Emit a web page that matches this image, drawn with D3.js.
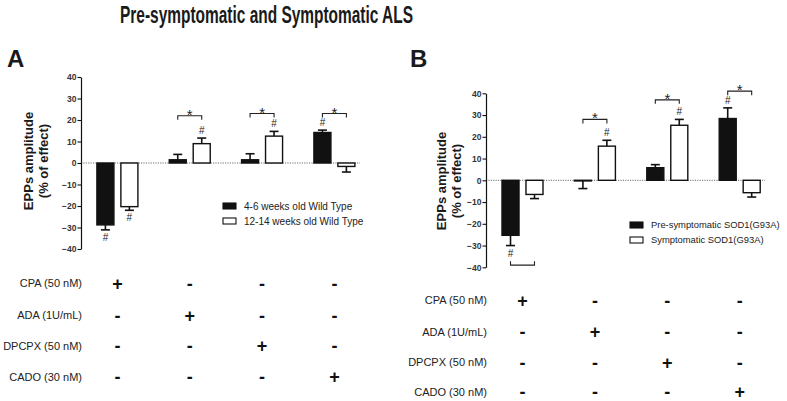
<!DOCTYPE html>
<html>
<head>
<meta charset="utf-8">
<script src="https://cdn.jsdelivr.net/npm/d3@7"></script>
<style>
  body { margin: 0; background: #fff; }
  svg { font-family: "Liberation Sans", Arial, sans-serif; }
</style>
</head>
<body>
<div id="chart-container"></div>
<script>
// Treatments (table rows and bar groups).
const treatments = ["CPA (50 nM)", "ADA (1U/mL)", "DPCPX (50 nM)", "CADO (30 nM)"];
const yTicks = [40, 30, 20, 10, 0, -10, -20, -30, -40];

// Panel A: wild type.
const seriesA = ["4-6 weeks old Wild Type", "12-14 weeks old Wild Type"];
const youngWT = [-28.8, 1.5, 1.5, 14.2];
const youngWTErr = [2.3, 2.5, 2.8, 1.1];
const oldWT = [-20.3, 9, 12.5, -1.6];
const oldWTErr = [1.7, 2.6, 2.2, 2.6];
// [group, series] with a # mark.
const hashA = [[0, 0], [0, 1], [1, 1], [2, 1], [3, 0]];
// [group, level] for * brackets.
const starA = [[1, 22], [2, 23], [3, 23]];

// Panel B: SOD1(G93A).
const seriesB = ["Pre-symptomatic SOD1(G93A)", "Symptomatic SOD1(G93A)"];
const preSymp = [-25.3, -0.3, 5.8, 28.4];
const preSympErr = [4.7, 3.5, 1.4, 4.9];
const symp = [-6.5, 15.7, 25.3, -5.7];
const sympErr = [1.9, 2.7, 2.7, 2.0];
const hashB = [[0, 0], [1, 1], [2, 1], [3, 0]];
const starB = [[1, 28], [2, 37], [3, 41]];
const lowBracketB = [[0, -39]];

const width = 787;
const height = 401;

const svg = d3.select("#chart-container").append("svg")
    .attr("width", width)
    .attr("height", height);

// condensed bold title
svg.append("text")
    .attr("x", 120)
    .attr("y", 23)
    .attr("textLength", 293)
    .attr("lengthAdjust", "spacingAndGlyphs")
    .style("font-weight", "bold")
    .style("font-size", "23px")
    .attr("fill", "#1a1a1a")
    .text("Pre-symptomatic and Symptomatic ALS");

function drawPanel(p) {
    const g = svg.append("g");

    const y = d3.scaleLinear().domain([-40, 40]).range([p.yBottom, p.yTop]);
    const x = d3.scalePoint().domain(d3.range(4)).range([p.firstCenter, p.lastCenter]);
    const sub = d3.scaleBand().domain([0, 1]).range([-20.5, 20.5]).paddingInner(0.29);

    // panel letter
    g.append("text")
        .attr("x", p.letterX)
        .attr("y", 67)
        .style("font-weight", "bold")
        .style("font-size", "24px")
        .attr("fill", "#1a1a1a")
        .text(p.letter);

    // y label
    const yl = g.append("text")
        .attr("transform", `translate(${p.labelX}, ${p.labelY}) rotate(-90)`)
        .attr("text-anchor", "middle")
        .style("font-weight", "bold")
        .style("font-size", "13px")
        .attr("fill", "#1a1a1a");
    yl.append("tspan").attr("x", 0).attr("dy", 0).text("EPPs amplitude");
    yl.append("tspan").attr("x", 0).attr("dy", 14.5).text("(% of effect)");

    // zero line
    g.append("line")
        .attr("x1", p.axisX)
        .attr("x2", p.zeroEnd)
        .attr("y1", y(0))
        .attr("y2", y(0))
        .attr("stroke", "#444")
        .attr("stroke-width", 0.8)
        .attr("stroke-dasharray", "1.2,1.2");

    const bars = [];
    p.values.forEach((vals, s) => {
        vals.forEach((v, i) => {
            bars.push({ i: i, s: s, v: v, e: p.errors[s][i] });
        });
    });

    const cx = d => x(d.i) + sub(d.s) + sub.bandwidth() / 2;

    // error bars (outward from bar end)
    bars.forEach(d => {
        const end = d.v >= 0 ? d.v + d.e : d.v - d.e;
        g.append("line")
            .attr("x1", cx(d)).attr("x2", cx(d))
            .attr("y1", y(d.v)).attr("y2", y(end))
            .attr("stroke", "#111").attr("stroke-width", 1.6);
        g.append("line")
            .attr("x1", cx(d) - 4.5).attr("x2", cx(d) + 4.5)
            .attr("y1", y(end)).attr("y2", y(end))
            .attr("stroke", "#111").attr("stroke-width", 1.6);
    });

    g.selectAll(".bar")
        .data(bars)
        .enter()
        .append("rect")
        .attr("class", "bar")
        .attr("x", d => x(d.i) + sub(d.s))
        .attr("width", sub.bandwidth())
        .attr("y", d => y(Math.max(0, d.v)))
        .attr("height", d => Math.abs(y(d.v) - y(0)))
        .attr("fill", d => d.s === 0 ? "#111" : "#fff")
        .attr("stroke", "#111")
        .attr("stroke-width", 1.4);

    // # marks
    p.hashes.forEach(([i, s]) => {
        const d = bars.find(b => b.i === i && b.s === s);
        const end = d.v >= 0 ? d.v + d.e : d.v - d.e;
        g.append("text")
            .attr("x", cx(d))
            .attr("y", d.v >= 0 ? y(end) - 4 : y(end) + 11)
            .attr("text-anchor", "middle")
            .style("font-size", "10px")
            .attr("fill", "#222")
            .text("#");
    });

    // * brackets
    p.stars.forEach(([i, level]) => {
        const x1 = x(i) + sub(0) + sub.bandwidth() / 2;
        const x2 = x(i) + sub(1) + sub.bandwidth() / 2;
        const yy = y(level);
        g.append("path")
            .attr("d", `M${x1},${yy + 4}V${yy}H${x2}V${yy + 4}`)
            .attr("fill", "none")
            .attr("stroke", "#222")
            .attr("stroke-width", 1.1);
        g.append("text")
            .attr("x", (x1 + x2) / 2)
            .attr("y", yy + 4)
            .attr("text-anchor", "middle")
            .style("font-size", "15px")
            .attr("fill", "#222")
            .text("*");
    });

    p.lowBrackets.forEach(([i, level]) => {
        const x1 = x(i) + sub(0) + sub.bandwidth() / 2;
        const x2 = x(i) + sub(1) + sub.bandwidth() / 2;
        const yy = y(level);
        g.append("path")
            .attr("d", `M${x1},${yy - 4}V${yy}H${x2}V${yy - 4}`)
            .attr("fill", "none")
            .attr("stroke", "#222")
            .attr("stroke-width", 1.1);
    });

    // y axis
    const axis = g.append("g")
        .attr("transform", `translate(${p.axisX}, 0)`)
        .call(d3.axisLeft(y).tickValues(yTicks).tickSize(3.5).tickSizeOuter(0).tickPadding(1));
    axis.select(".domain").attr("stroke", "#111").attr("stroke-width", 1.2);
    axis.selectAll(".tick line").attr("stroke", "#111").attr("stroke-width", 1.1);
    axis.selectAll(".tick text")
        .style("font-size", "8.5px")
        .style("font-family", "'Liberation Sans', Arial, sans-serif")
        .style("font-weight", "bold")
        .attr("fill", "#333");

    // legend
    const lg = g.append("g").attr("transform", `translate(${p.legendX}, ${p.legendY})`);
    p.series.forEach((name, s) => {
        lg.append("rect")
            .attr("x", 0)
            .attr("y", s * 15 - 3)
            .attr("width", 13)
            .attr("height", 6)
            .attr("fill", s === 0 ? "#111" : "#fff")
            .attr("stroke", "#111")
            .attr("stroke-width", 1.1);
        lg.append("text")
            .attr("x", 21)
            .attr("y", s * 15)
            .attr("dy", "0.35em")
            .style("font-size", p.legendFont)
            .attr("fill", "#222")
            .text(name);
    });

    // treatment table
    treatments.forEach((t, r) => {
        const ry = p.rowsY[r];
        g.append("text")
            .attr("x", p.tableLabelX)
            .attr("y", ry)
            .attr("dy", "0.35em")
            .attr("text-anchor", "end")
            .style("font-size", "11px")
            .attr("fill", "#222")
            .text(t);
        d3.range(4).forEach(c => {
            g.append("text")
                .attr("x", x(c))
                .attr("y", ry)
                .attr("dy", "0.36em")
                .attr("text-anchor", "middle")
                .style("font-weight", "bold")
                .style("font-size", "18px")
                .attr("fill", "#111")
                .text(c === r ? "+" : "-");
        });
    });
}

drawPanel({
    letter: "A", letterX: 7,
    yTop: 77, yBottom: 249, axisX: 81, zeroEnd: 360,
    firstCenter: 117.4, lastCenter: 334.4,
    labelX: 33, labelY: 161,
    values: [youngWT, oldWT], errors: [youngWTErr, oldWTErr],
    series: seriesA, hashes: hashA, stars: starA, lowBrackets: [],
    legendX: 223, legendY: 206, legendFont: "10px",
    rowsY: [283.5, 315.5, 346, 377], tableLabelX: 82
});

drawPanel({
    letter: "B", letterX: 410,
    yTop: 93.3, yBottom: 267.3, axisX: 486, zeroEnd: 765,
    firstCenter: 522.5, lastCenter: 739.7,
    labelX: 446, labelY: 181,
    values: [preSymp, symp], errors: [preSympErr, sympErr],
    series: seriesB, hashes: hashB, stars: starB, lowBrackets: lowBracketB,
    legendX: 630, legendY: 225, legendFont: "9.4px",
    rowsY: [300.5, 332, 362.5, 392], tableLabelX: 487
});
</script>
</body>
</html>
